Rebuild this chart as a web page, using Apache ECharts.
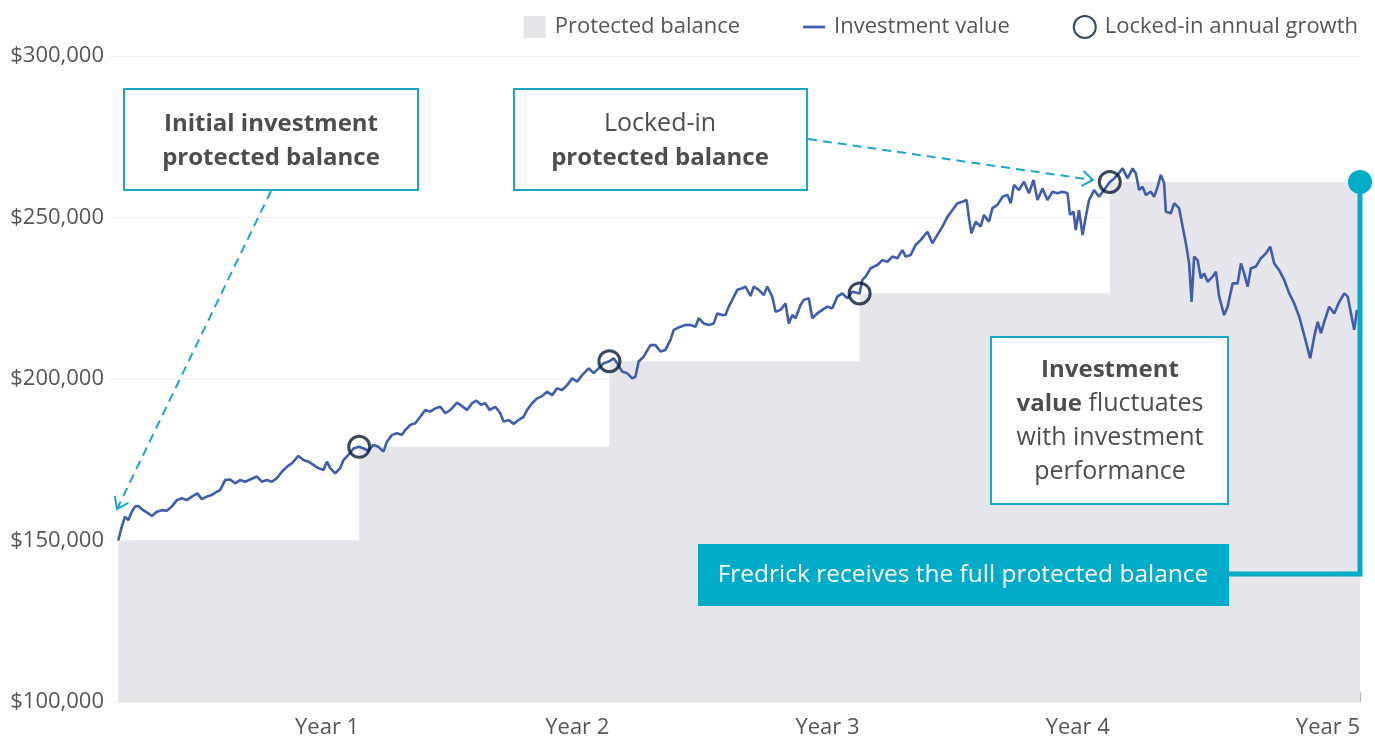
<!DOCTYPE html>
<html>
<head>
<meta charset="utf-8">
<title>Protected balance</title>
<script src="https://cdn.jsdelivr.net/npm/echarts@6/dist/echarts.min.js"></script>
<style>
  html, body { margin: 0; padding: 0; background: #fff; }
  #main { width: 1375px; height: 737px; }
</style>
</head>
<body>
<div id="main"></div>
<script>
// investment value (x in years)
var investYears = [
  0.037,0.051,0.064,0.077,0.091,0.104,0.117,0.137,0.157,0.171,0.191,0.211,0.231,0.251,0.271,0.291,0.311,0.331,0.353,0.371,
  0.391,0.411,0.431,0.444,0.464,0.484,0.504,0.524,0.544,0.564,0.591,0.611,0.631,0.651,0.671,0.691,0.711,0.731,0.757,0.777,
  0.797,0.817,0.837,0.857,0.871,0.884,0.904,0.924,0.937,0.957,0.977,1.000,1.017,1.037,1.057,1.077,1.097,1.111,1.131,1.151,
  1.171,1.184,1.204,1.224,1.244,1.264,1.284,1.304,1.324,1.344,1.364,1.391,1.411,1.431,1.451,1.468,1.487,1.504,1.521,1.544,
  1.564,1.577,1.597,1.617,1.637,1.657,1.671,1.691,1.711,1.731,1.751,1.771,1.791,1.811,1.831,1.851,1.871,1.891,1.917,1.937,
  1.957,1.977,2.000,2.017,2.031,2.051,2.071,2.091,2.104,2.117,2.137,2.164,2.184,2.204,2.224,2.244,2.257,2.284,2.304,2.324,
  2.344,2.357,2.377,2.397,2.417,2.431,2.451,2.464,2.477,2.491,2.511,2.531,2.544,2.564,2.577,2.597,2.617,2.631,2.651,2.664,
  2.684,2.704,2.717,2.731,2.744,2.764,2.777,2.797,2.811,2.831,2.851,2.871,2.891,2.911,2.931,2.951,2.971,3.000,3.011,3.024,
  3.044,3.071,3.091,3.111,3.131,3.151,3.171,3.184,3.204,3.224,3.244,3.271,3.291,3.311,3.331,3.351,3.371,3.391,3.411,3.428,
  3.437,3.447,3.464,3.484,3.497,3.517,3.531,3.551,3.571,3.591,3.604,3.617,3.637,3.657,3.677,3.695,3.711,3.731,3.751,3.771,
  3.791,3.811,3.831,3.841,3.855,3.864,3.877,3.891,3.904,3.917,3.937,3.957,3.977,4.000,4.017,4.031,4.051,4.071,4.091,4.104,
  4.117,4.131,4.144,4.164,4.177,4.191,4.204,4.217,4.224,4.244,4.257,4.277,4.291,4.304,4.317,4.327,4.337,4.351,4.364,4.377,
  4.391,4.411,4.424,4.437,4.457,4.471,4.491,4.511,4.524,4.537,4.551,4.564,4.584,4.604,4.624,4.641,4.657,4.677,4.697,4.717,
  4.737,4.757,4.777,4.801,4.817,4.831,4.844,4.857,4.877,4.897,4.917,4.937,4.951,4.964,4.977,4.988
];
var investValues = [
  150000,154300,157400,156300,158900,160500,160700,159400,158400,157600,158900,159400,159200,160500,162500,163100,162500,163600,164600,162800,
  163600,164100,165100,165600,168700,168900,167700,168700,168200,168900,169800,168200,168700,168200,169300,171300,172800,173900,176200,174900,
  174400,173400,172400,171800,174400,172400,170800,172400,174900,176500,178500,179000,178500,177800,179600,179000,177500,180600,182700,183200,
  182700,184200,185800,186300,188300,190400,189900,190900,191400,189400,190400,192700,191600,190400,192500,193300,192000,192500,190400,191400,
  189400,186800,187300,186100,187300,188300,190400,192500,194000,194700,196100,195000,197100,196600,198100,200200,199200,201200,203300,201800,
  203300,204900,205500,206400,204900,202300,201800,200200,200700,205400,206900,210500,210500,208500,209000,212100,215200,216200,216700,216700,
  216200,218800,217200,216700,217200,220300,219800,219800,222400,224500,227600,228100,228600,225700,228600,227600,226000,228600,225500,220800,
  221400,223400,217200,219800,218800,222900,224500,225000,218800,220300,221400,222400,221900,225500,226500,225000,227000,226500,230700,231700,
  234300,235300,236800,236300,237900,237400,239900,237900,238400,241500,243000,245600,242000,244600,247200,250200,252300,254400,254900,255400,
  249800,245100,248700,247200,250800,248700,252900,253900,256400,257000,254400,260100,258500,261100,257500,261600,255400,259000,255400,258000,
  257500,258000,257500,250800,251800,246100,252300,244600,250200,255400,258500,256400,258500,261000,262000,263200,265200,262100,265200,263700,
  258500,259500,257000,258000,256400,259500,263200,260600,251800,251300,254400,252900,247200,242000,235800,223900,237900,236800,231200,232700,
  230100,231700,233200,225500,219800,222400,229600,229600,235800,232700,228600,234300,234800,237400,238900,241000,235800,233700,230700,226500,
  223400,219300,213600,206400,213100,217700,214200,217700,222400,220300,223900,226500,225500,220300,215200,221400
];

// protected balance steps and locked-in points
var protectYears = [0.037, 1, 2, 3, 4, 5];
var protectValues = [150000, 179000, 205500, 226500, 261000, 261000];
var lockYears = [1, 2, 3, 4];
var lockValues = [179000, 205500, 226500, 261000];

// axes
var yearTicks = [1, 2, 3, 4, 5];
var yearLabels = ['Year 1', 'Year 2', 'Year 3', 'Year 4', 'Year 5'];
var yMin = 100000, yMax = 300000, yStep = 50000;

var FONT = '"Open Sans", sans-serif';
var TEXT = '#4d4d4d';
var TEAL = '#1ba7c7';
var FILL_TEAL = '#00abc8';
var NAVY = '#081a33';
var BLUE = '#3f5dab';
var AREA = '#e5e5eb';

function zip(a, b) {
  var out = [];
  for (var i = 0; i < a.length; i++) out.push([a[i], b[i]]);
  return out;
}

var chart = echarts.init(document.getElementById('main'), null, { renderer: 'canvas' });

var option = {
  animation: false,
  backgroundColor: '#fff',
  textStyle: { fontFamily: FONT },
  grid: { left: 109, right: 15, top: 56, bottom: 35, outerBoundsMode: 'none', containLabel: false },
  legend: {
    top: 10, right: 12,
    itemGap: 63, itemWidth: 22, itemHeight: 22,
    textStyle: { fontSize: 22, color: '#555', fontFamily: FONT, padding: [0, 0, 0, 4] },
    data: [
      { name: 'Protected balance', icon: 'rect' },
      { name: 'Investment value', icon: 'path://M0,0H24V3H0Z' },
      { name: 'Locked-in annual growth', icon: 'circle' }
    ]
  },
  xAxis: {
    type: 'value', min: 0, max: 5, interval: 1,
    axisLine: { show: false },
    axisTick: { show: true, inside: true, length: 10, customValues: yearTicks, lineStyle: { color: '#b5b5b5', width: 1 } },
    axisLabel: {
      customValues: yearTicks, align: 'right', margin: 15,
      fontSize: 22, color: '#555', fontFamily: FONT,
      formatter: function (v) { return yearLabels[yearTicks.indexOf(Math.round(v))] || ''; }
    },
    splitLine: { show: false }
  },
  yAxis: {
    type: 'value', min: yMin, max: yMax, interval: yStep,
    axisLine: { show: false }, axisTick: { show: false },
    axisLabel: {
      margin: 5, fontSize: 22, color: '#555', fontFamily: FONT,
      formatter: function (v) { return '$' + v.toLocaleString('en-US'); }
    },
    splitLine: { show: true, lineStyle: { color: '#f4f4f6', width: 1 } }
  },
  series: [
    {
      name: 'Protected balance', type: 'line', step: 'end', symbol: 'none',
      data: zip(protectYears, protectValues),
      lineStyle: { width: 0 },
      itemStyle: { color: AREA },
      areaStyle: { color: AREA, opacity: 1, origin: 'start' },
      z: 1
    },
    {
      name: 'Investment value', type: 'line', symbol: 'none',
      data: zip(investYears, investValues),
      lineStyle: { color: BLUE, width: 2.6 },
      itemStyle: { color: BLUE },
      z: 3
    },
    {
      name: 'Locked-in annual growth', type: 'scatter', symbol: 'circle', symbolSize: 21,
      data: zip(lockYears, lockValues),
      itemStyle: { color: 'rgba(255,255,255,0)', borderColor: NAVY, borderWidth: 3 },
      z: 4
    }
  ]
};
chart.setOption(option);

function arrow(x1, y1, x2, y2) {
  var a = Math.atan2(y2 - y1, x2 - x1), s = 13, w = 0.62;
  return {
    type: 'group', z: 20,
    children: [
      { type: 'line', shape: { x1: x1, y1: y1, x2: x2, y2: y2 },
        style: { stroke: TEAL, lineWidth: 2, lineDash: [9, 6] } },
      { type: 'polyline',
        shape: { points: [
          [x2 - s * Math.cos(a - w), y2 - s * Math.sin(a - w)], [x2, y2],
          [x2 - s * Math.cos(a + w), y2 - s * Math.sin(a + w)]] },
        style: { stroke: TEAL, lineWidth: 2, fill: null } }
    ]
  };
}

function box(x, y, w, h) {
  return { type: 'rect', z: 20, shape: { x: x, y: y, width: w, height: h },
    style: { fill: '#fff', stroke: TEAL, lineWidth: 2 } };
}

var rich = {
  b: { fontFamily: FONT, fontSize: 24, fontWeight: 'bold', fill: TEXT, lineHeight: 34 },
  n: { fontFamily: FONT, fontSize: 25, fontWeight: 'normal', fill: TEXT, lineHeight: 34 }
};

function label(x, y, text) {
  return { type: 'text', z: 21, x: x, y: y,
    style: { text: text, rich: rich, align: 'center', verticalAlign: 'middle', fontFamily: FONT, fontSize: 24, fill: TEXT } };
}

var endPt = chart.convertToPixel({ gridIndex: 0 }, [5, protectValues[protectValues.length - 1]]);

chart.setOption({
  graphic: [
    arrow(271, 191, 117, 509),
    arrow(808, 139, 1093, 180),
    arrow(1229, 357, 1299, 357),
    box(124, 89, 294, 101),
    label(271, 141, '{b|Initial investment}\n{b|protected balance}'),
    box(514, 89, 293, 101),
    label(660, 141, '{n|Locked-in}\n{b|protected balance}'),
    box(991, 337, 237, 167),
    label(1110, 421, '{b|Investment}\n{b|value}{n| fluctuates}\n{n|with investment}\n{n|performance}'),
    { type: 'polyline', z: 19,
      shape: { points: [[1229, 574], [endPt[0], 574], [endPt[0], endPt[1]]] },
      style: { stroke: FILL_TEAL, lineWidth: 5, fill: null } },
    { type: 'circle', z: 19, shape: { cx: endPt[0], cy: endPt[1], r: 12 }, style: { fill: FILL_TEAL } },
    { type: 'rect', z: 20, shape: { x: 698, y: 544, width: 531, height: 62 }, style: { fill: FILL_TEAL } },
    { type: 'text', z: 21, x: 963, y: 575,
      style: { text: 'Fredrick receives the full protected balance', align: 'center', verticalAlign: 'middle',
        fontFamily: FONT, fontSize: 24.5, fontWeight: 500, fill: '#fff' } }
  ]
});
</script>
</body>
</html>
